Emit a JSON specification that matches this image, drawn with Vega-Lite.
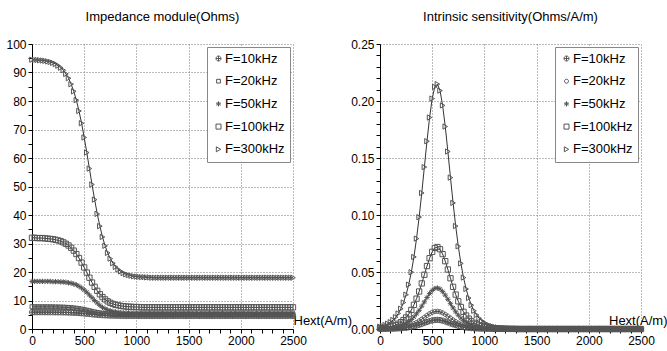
{
"$schema":"https://vega.github.io/schema/vega-lite/v6.json",
"padding":{"left":5,"top":11,"right":0,"bottom":0},
"bounds":"flush",
"spacing":87,
"data":{"values":[
{"F":"F=300kHz","H":0,"Z":94.5,"S":0.002},{"F":"F=300kHz","H":25,"Z":94.4,"S":0.0026},{"F":"F=300kHz","H":50,"Z":94.4,"S":0.0035},{"F":"F=300kHz","H":75,"Z":94.3,"S":0.0046},{"F":"F=300kHz","H":100,"Z":94.2,"S":0.006},{"F":"F=300kHz","H":125,"Z":94.1,"S":0.0079},{"F":"F=300kHz","H":150,"Z":93.9,"S":0.0104},{"F":"F=300kHz","H":175,"Z":93.7,"S":0.0136},{"F":"F=300kHz","H":200,"Z":93.4,"S":0.0178},{"F":"F=300kHz","H":225,"Z":93.0,"S":0.0232},{"F":"F=300kHz","H":250,"Z":92.4,"S":0.0301},{"F":"F=300kHz","H":275,"Z":91.7,"S":0.0389},{"F":"F=300kHz","H":300,"Z":90.8,"S":0.0498},{"F":"F=300kHz","H":325,"Z":89.5,"S":0.0632},{"F":"F=300kHz","H":350,"Z":88.0,"S":0.0793},{"F":"F=300kHz","H":375,"Z":85.9,"S":0.0981},{"F":"F=300kHz","H":400,"Z":83.4,"S":0.1193},{"F":"F=300kHz","H":425,"Z":80.3,"S":0.142},{"F":"F=300kHz","H":450,"Z":76.5,"S":0.1647},{"F":"F=300kHz","H":475,"Z":72.2,"S":0.1855},{"F":"F=300kHz","H":500,"Z":67.2,"S":0.2021},{"F":"F=300kHz","H":525,"Z":61.9,"S":0.2124},{"F":"F=300kHz","H":550,"Z":56.3,"S":0.2148},{"F":"F=300kHz","H":575,"Z":50.7,"S":0.2091},{"F":"F=300kHz","H":600,"Z":45.4,"S":0.1961},{"F":"F=300kHz","H":625,"Z":40.4,"S":0.1776},{"F":"F=300kHz","H":650,"Z":36.1,"S":0.1557},{"F":"F=300kHz","H":675,"Z":32.3,"S":0.1328},{"F":"F=300kHz","H":700,"Z":29.2,"S":0.1106},{"F":"F=300kHz","H":725,"Z":26.7,"S":0.0903},{"F":"F=300kHz","H":750,"Z":24.7,"S":0.0725},{"F":"F=300kHz","H":775,"Z":23.1,"S":0.0575},{"F":"F=300kHz","H":800,"Z":21.8,"S":0.0451},{"F":"F=300kHz","H":825,"Z":20.9,"S":0.0351},{"F":"F=300kHz","H":850,"Z":20.2,"S":0.0272},{"F":"F=300kHz","H":875,"Z":19.6,"S":0.0209},{"F":"F=300kHz","H":900,"Z":19.2,"S":0.016},{"F":"F=300kHz","H":925,"Z":18.9,"S":0.0123},{"F":"F=300kHz","H":950,"Z":18.7,"S":0.0094},{"F":"F=300kHz","H":975,"Z":18.5,"S":0.0071},{"F":"F=300kHz","H":1000,"Z":18.4,"S":0.0054},{"F":"F=300kHz","H":1025,"Z":18.3,"S":0.0041},{"F":"F=300kHz","H":1050,"Z":18.2,"S":0.0031},{"F":"F=300kHz","H":1075,"Z":18.2,"S":0.0024},{"F":"F=300kHz","H":1100,"Z":18.1,"S":0.0018},{"F":"F=300kHz","H":1125,"Z":18.1,"S":0.0014},{"F":"F=300kHz","H":1150,"Z":18,"S":0.001},{"F":"F=300kHz","H":1175,"Z":18,"S":0.0008},{"F":"F=300kHz","H":1200,"Z":18,"S":0.0006},{"F":"F=300kHz","H":1225,"Z":18,"S":0.0005},{"F":"F=300kHz","H":1250,"Z":18,"S":0.0003},{"F":"F=300kHz","H":1275,"Z":18,"S":0.0003},{"F":"F=300kHz","H":1300,"Z":18,"S":0.0002},
{"F":"F=300kHz","H":1325,"Z":18,"S":0},{"F":"F=300kHz","H":1350,"Z":18,"S":0},{"F":"F=300kHz","H":1375,"Z":18,"S":0},{"F":"F=300kHz","H":1400,"Z":18,"S":0},{"F":"F=300kHz","H":1425,"Z":18,"S":0},{"F":"F=300kHz","H":1450,"Z":18,"S":0},{"F":"F=300kHz","H":1475,"Z":18,"S":0},{"F":"F=300kHz","H":1500,"Z":18,"S":0},{"F":"F=300kHz","H":1525,"Z":18,"S":0},{"F":"F=300kHz","H":1550,"Z":18,"S":0},{"F":"F=300kHz","H":1575,"Z":18,"S":0},{"F":"F=300kHz","H":1600,"Z":18,"S":0},{"F":"F=300kHz","H":1625,"Z":18,"S":0},{"F":"F=300kHz","H":1650,"Z":18,"S":0},{"F":"F=300kHz","H":1675,"Z":18,"S":0},{"F":"F=300kHz","H":1700,"Z":18,"S":0},{"F":"F=300kHz","H":1725,"Z":18,"S":0},{"F":"F=300kHz","H":1750,"Z":18,"S":0},{"F":"F=300kHz","H":1775,"Z":18,"S":0},{"F":"F=300kHz","H":1800,"Z":18,"S":0},{"F":"F=300kHz","H":1825,"Z":18,"S":0},{"F":"F=300kHz","H":1850,"Z":18,"S":0},{"F":"F=300kHz","H":1875,"Z":18,"S":0},{"F":"F=300kHz","H":1900,"Z":18,"S":0},{"F":"F=300kHz","H":1925,"Z":18,"S":0},{"F":"F=300kHz","H":1950,"Z":18,"S":0},{"F":"F=300kHz","H":1975,"Z":18,"S":0},{"F":"F=300kHz","H":2000,"Z":18,"S":0},{"F":"F=300kHz","H":2025,"Z":18,"S":0},{"F":"F=300kHz","H":2050,"Z":18,"S":0},{"F":"F=300kHz","H":2075,"Z":18,"S":0},{"F":"F=300kHz","H":2100,"Z":18,"S":0},{"F":"F=300kHz","H":2125,"Z":18,"S":0},{"F":"F=300kHz","H":2150,"Z":18,"S":0},{"F":"F=300kHz","H":2175,"Z":18,"S":0},{"F":"F=300kHz","H":2200,"Z":18,"S":0},{"F":"F=300kHz","H":2225,"Z":18,"S":0},{"F":"F=300kHz","H":2250,"Z":18,"S":0},{"F":"F=300kHz","H":2275,"Z":18,"S":0},{"F":"F=300kHz","H":2300,"Z":18,"S":0},{"F":"F=300kHz","H":2325,"Z":18,"S":0},{"F":"F=300kHz","H":2350,"Z":18,"S":0},{"F":"F=300kHz","H":2375,"Z":18,"S":0},{"F":"F=300kHz","H":2400,"Z":18,"S":0},{"F":"F=300kHz","H":2425,"Z":18,"S":0},{"F":"F=300kHz","H":2450,"Z":18,"S":0},{"F":"F=300kHz","H":2475,"Z":18,"S":0},{"F":"F=300kHz","H":2500,"Z":18,"S":0},
{"F":"F=100kHz","H":0,"Z":32.0,"S":0.0007},{"F":"F=100kHz","H":25,"Z":32.0,"S":0.0009},{"F":"F=100kHz","H":50,"Z":31.9,"S":0.0012},{"F":"F=100kHz","H":75,"Z":31.9,"S":0.0015},{"F":"F=100kHz","H":100,"Z":31.9,"S":0.002},{"F":"F=100kHz","H":125,"Z":31.8,"S":0.0027},{"F":"F=100kHz","H":150,"Z":31.7,"S":0.0035},{"F":"F=100kHz","H":175,"Z":31.6,"S":0.0046},{"F":"F=100kHz","H":200,"Z":31.5,"S":0.006},{"F":"F=100kHz","H":225,"Z":31.3,"S":0.0078},{"F":"F=100kHz","H":250,"Z":31.1,"S":0.0101},{"F":"F=100kHz","H":275,"Z":30.8,"S":0.013},{"F":"F=100kHz","H":300,"Z":30.4,"S":0.0167},{"F":"F=100kHz","H":325,"Z":29.9,"S":0.0212},{"F":"F=100kHz","H":350,"Z":29.3,"S":0.0266},{"F":"F=100kHz","H":375,"Z":28.5,"S":0.0329},{"F":"F=100kHz","H":400,"Z":27.5,"S":0.04},{"F":"F=100kHz","H":425,"Z":26.3,"S":0.0476},{"F":"F=100kHz","H":450,"Z":24.9,"S":0.0552},{"F":"F=100kHz","H":475,"Z":23.3,"S":0.0621},{"F":"F=100kHz","H":500,"Z":21.6,"S":0.0677},{"F":"F=100kHz","H":525,"Z":19.8,"S":0.0711},{"F":"F=100kHz","H":550,"Z":18.0,"S":0.0719},{"F":"F=100kHz","H":575,"Z":16.3,"S":0.07},{"F":"F=100kHz","H":600,"Z":14.8,"S":0.0657},{"F":"F=100kHz","H":625,"Z":13.4,"S":0.0595},{"F":"F=100kHz","H":650,"Z":12.2,"S":0.0522},{"F":"F=100kHz","H":675,"Z":11.2,"S":0.0445},{"F":"F=100kHz","H":700,"Z":10.4,"S":0.037},{"F":"F=100kHz","H":725,"Z":9.7,"S":0.0302},{"F":"F=100kHz","H":750,"Z":9.2,"S":0.0243},{"F":"F=100kHz","H":775,"Z":8.8,"S":0.0193},{"F":"F=100kHz","H":800,"Z":8.5,"S":0.0151},{"F":"F=100kHz","H":825,"Z":8.3,"S":0.0118},{"F":"F=100kHz","H":850,"Z":8.1,"S":0.0091},{"F":"F=100kHz","H":875,"Z":8.0,"S":0.007},{"F":"F=100kHz","H":900,"Z":7.9,"S":0.0054},{"F":"F=100kHz","H":925,"Z":7.8,"S":0.0041},{"F":"F=100kHz","H":950,"Z":7.8,"S":0.0031},{"F":"F=100kHz","H":975,"Z":7.7,"S":0.0024},{"F":"F=100kHz","H":1000,"Z":7.7,"S":0.0018},{"F":"F=100kHz","H":1025,"Z":7.7,"S":0.0014},{"F":"F=100kHz","H":1050,"Z":7.6,"S":0.0011},{"F":"F=100kHz","H":1075,"Z":7.6,"S":0.0008},{"F":"F=100kHz","H":1100,"Z":7.6,"S":0.0006},{"F":"F=100kHz","H":1125,"Z":7.6,"S":0.0005},{"F":"F=100kHz","H":1150,"Z":7.6,"S":0.0004},{"F":"F=100kHz","H":1175,"Z":7.6,"S":0.0003},{"F":"F=100kHz","H":1200,"Z":7.6,"S":0.0002},{"F":"F=100kHz","H":1225,"Z":7.6,"S":0.0002},{"F":"F=100kHz","H":1250,"Z":7.6,"S":0.0001},{"F":"F=100kHz","H":1275,"Z":7.6,"S":0.0001},{"F":"F=100kHz","H":1300,"Z":7.6,"S":0.0001},
{"F":"F=100kHz","H":1325,"Z":7.6,"S":0},{"F":"F=100kHz","H":1350,"Z":7.6,"S":0},{"F":"F=100kHz","H":1375,"Z":7.6,"S":0},{"F":"F=100kHz","H":1400,"Z":7.6,"S":0},{"F":"F=100kHz","H":1425,"Z":7.6,"S":0},{"F":"F=100kHz","H":1450,"Z":7.6,"S":0},{"F":"F=100kHz","H":1475,"Z":7.6,"S":0},{"F":"F=100kHz","H":1500,"Z":7.6,"S":0},{"F":"F=100kHz","H":1525,"Z":7.6,"S":0},{"F":"F=100kHz","H":1550,"Z":7.6,"S":0},{"F":"F=100kHz","H":1575,"Z":7.6,"S":0},{"F":"F=100kHz","H":1600,"Z":7.6,"S":0},{"F":"F=100kHz","H":1625,"Z":7.6,"S":0},{"F":"F=100kHz","H":1650,"Z":7.6,"S":0},{"F":"F=100kHz","H":1675,"Z":7.6,"S":0},{"F":"F=100kHz","H":1700,"Z":7.6,"S":0},{"F":"F=100kHz","H":1725,"Z":7.6,"S":0},{"F":"F=100kHz","H":1750,"Z":7.6,"S":0},{"F":"F=100kHz","H":1775,"Z":7.6,"S":0},{"F":"F=100kHz","H":1800,"Z":7.6,"S":0},{"F":"F=100kHz","H":1825,"Z":7.6,"S":0},{"F":"F=100kHz","H":1850,"Z":7.6,"S":0},{"F":"F=100kHz","H":1875,"Z":7.6,"S":0},{"F":"F=100kHz","H":1900,"Z":7.6,"S":0},{"F":"F=100kHz","H":1925,"Z":7.6,"S":0},{"F":"F=100kHz","H":1950,"Z":7.6,"S":0},{"F":"F=100kHz","H":1975,"Z":7.6,"S":0},{"F":"F=100kHz","H":2000,"Z":7.6,"S":0},{"F":"F=100kHz","H":2025,"Z":7.6,"S":0},{"F":"F=100kHz","H":2050,"Z":7.6,"S":0},{"F":"F=100kHz","H":2075,"Z":7.6,"S":0},{"F":"F=100kHz","H":2100,"Z":7.6,"S":0},{"F":"F=100kHz","H":2125,"Z":7.6,"S":0},{"F":"F=100kHz","H":2150,"Z":7.6,"S":0},{"F":"F=100kHz","H":2175,"Z":7.6,"S":0},{"F":"F=100kHz","H":2200,"Z":7.6,"S":0},{"F":"F=100kHz","H":2225,"Z":7.6,"S":0},{"F":"F=100kHz","H":2250,"Z":7.6,"S":0},{"F":"F=100kHz","H":2275,"Z":7.6,"S":0},{"F":"F=100kHz","H":2300,"Z":7.6,"S":0},{"F":"F=100kHz","H":2325,"Z":7.6,"S":0},{"F":"F=100kHz","H":2350,"Z":7.6,"S":0},{"F":"F=100kHz","H":2375,"Z":7.6,"S":0},{"F":"F=100kHz","H":2400,"Z":7.6,"S":0},{"F":"F=100kHz","H":2425,"Z":7.6,"S":0},{"F":"F=100kHz","H":2450,"Z":7.6,"S":0},{"F":"F=100kHz","H":2475,"Z":7.6,"S":0},{"F":"F=100kHz","H":2500,"Z":7.6,"S":0},
{"F":"F=50kHz","H":0,"Z":16.7,"S":0.0003},{"F":"F=50kHz","H":25,"Z":16.7,"S":0.0004},{"F":"F=50kHz","H":50,"Z":16.7,"S":0.0006},{"F":"F=50kHz","H":75,"Z":16.7,"S":0.0008},{"F":"F=50kHz","H":100,"Z":16.7,"S":0.001},{"F":"F=50kHz","H":125,"Z":16.7,"S":0.0013},{"F":"F=50kHz","H":150,"Z":16.7,"S":0.0017},{"F":"F=50kHz","H":175,"Z":16.7,"S":0.0023},{"F":"F=50kHz","H":200,"Z":16.6,"S":0.003},{"F":"F=50kHz","H":225,"Z":16.6,"S":0.0039},{"F":"F=50kHz","H":250,"Z":16.6,"S":0.005},{"F":"F=50kHz","H":275,"Z":16.5,"S":0.0065},{"F":"F=50kHz","H":300,"Z":16.5,"S":0.0083},{"F":"F=50kHz","H":325,"Z":16.4,"S":0.0106},{"F":"F=50kHz","H":350,"Z":16.2,"S":0.0133},{"F":"F=50kHz","H":375,"Z":16.1,"S":0.0164},{"F":"F=50kHz","H":400,"Z":15.8,"S":0.02},{"F":"F=50kHz","H":425,"Z":15.5,"S":0.0238},{"F":"F=50kHz","H":450,"Z":15.0,"S":0.0276},{"F":"F=50kHz","H":475,"Z":14.4,"S":0.0311},{"F":"F=50kHz","H":500,"Z":13.7,"S":0.0338},{"F":"F=50kHz","H":525,"Z":12.9,"S":0.0356},{"F":"F=50kHz","H":550,"Z":11.9,"S":0.036},{"F":"F=50kHz","H":575,"Z":11.0,"S":0.035},{"F":"F=50kHz","H":600,"Z":10.0,"S":0.0328},{"F":"F=50kHz","H":625,"Z":9.1,"S":0.0297},{"F":"F=50kHz","H":650,"Z":8.3,"S":0.0261},{"F":"F=50kHz","H":675,"Z":7.6,"S":0.0222},{"F":"F=50kHz","H":700,"Z":7.1,"S":0.0185},{"F":"F=50kHz","H":725,"Z":6.7,"S":0.0151},{"F":"F=50kHz","H":750,"Z":6.4,"S":0.0121},{"F":"F=50kHz","H":775,"Z":6.2,"S":0.0096},{"F":"F=50kHz","H":800,"Z":6.0,"S":0.0076},{"F":"F=50kHz","H":825,"Z":5.9,"S":0.0059},{"F":"F=50kHz","H":850,"Z":5.8,"S":0.0046},{"F":"F=50kHz","H":875,"Z":5.7,"S":0.0035},{"F":"F=50kHz","H":900,"Z":5.7,"S":0.0027},{"F":"F=50kHz","H":925,"Z":5.7,"S":0.0021},{"F":"F=50kHz","H":950,"Z":5.6,"S":0.0016},{"F":"F=50kHz","H":975,"Z":5.6,"S":0.0012},{"F":"F=50kHz","H":1000,"Z":5.6,"S":0.0009},{"F":"F=50kHz","H":1025,"Z":5.6,"S":0.0007},{"F":"F=50kHz","H":1050,"Z":5.6,"S":0.0005},{"F":"F=50kHz","H":1075,"Z":5.6,"S":0.0004},{"F":"F=50kHz","H":1100,"Z":5.6,"S":0.0003},{"F":"F=50kHz","H":1125,"Z":5.6,"S":0.0002},{"F":"F=50kHz","H":1150,"Z":5.6,"S":0.0002},{"F":"F=50kHz","H":1175,"Z":5.6,"S":0.0001},{"F":"F=50kHz","H":1200,"Z":5.6,"S":0.0001},{"F":"F=50kHz","H":1225,"Z":5.6,"S":0},{"F":"F=50kHz","H":1250,"Z":5.6,"S":0},{"F":"F=50kHz","H":1275,"Z":5.6,"S":0},{"F":"F=50kHz","H":1300,"Z":5.6,"S":0},
{"F":"F=50kHz","H":1325,"Z":5.6,"S":0},{"F":"F=50kHz","H":1350,"Z":5.6,"S":0},{"F":"F=50kHz","H":1375,"Z":5.6,"S":0},{"F":"F=50kHz","H":1400,"Z":5.6,"S":0},{"F":"F=50kHz","H":1425,"Z":5.6,"S":0},{"F":"F=50kHz","H":1450,"Z":5.6,"S":0},{"F":"F=50kHz","H":1475,"Z":5.6,"S":0},{"F":"F=50kHz","H":1500,"Z":5.6,"S":0},{"F":"F=50kHz","H":1525,"Z":5.6,"S":0},{"F":"F=50kHz","H":1550,"Z":5.6,"S":0},{"F":"F=50kHz","H":1575,"Z":5.6,"S":0},{"F":"F=50kHz","H":1600,"Z":5.6,"S":0},{"F":"F=50kHz","H":1625,"Z":5.6,"S":0},{"F":"F=50kHz","H":1650,"Z":5.6,"S":0},{"F":"F=50kHz","H":1675,"Z":5.6,"S":0},{"F":"F=50kHz","H":1700,"Z":5.6,"S":0},{"F":"F=50kHz","H":1725,"Z":5.6,"S":0},{"F":"F=50kHz","H":1750,"Z":5.6,"S":0},{"F":"F=50kHz","H":1775,"Z":5.6,"S":0},{"F":"F=50kHz","H":1800,"Z":5.6,"S":0},{"F":"F=50kHz","H":1825,"Z":5.6,"S":0},{"F":"F=50kHz","H":1850,"Z":5.6,"S":0},{"F":"F=50kHz","H":1875,"Z":5.6,"S":0},{"F":"F=50kHz","H":1900,"Z":5.6,"S":0},{"F":"F=50kHz","H":1925,"Z":5.6,"S":0},{"F":"F=50kHz","H":1950,"Z":5.6,"S":0},{"F":"F=50kHz","H":1975,"Z":5.6,"S":0},{"F":"F=50kHz","H":2000,"Z":5.6,"S":0},{"F":"F=50kHz","H":2025,"Z":5.6,"S":0},{"F":"F=50kHz","H":2050,"Z":5.6,"S":0},{"F":"F=50kHz","H":2075,"Z":5.6,"S":0},{"F":"F=50kHz","H":2100,"Z":5.6,"S":0},{"F":"F=50kHz","H":2125,"Z":5.6,"S":0},{"F":"F=50kHz","H":2150,"Z":5.6,"S":0},{"F":"F=50kHz","H":2175,"Z":5.6,"S":0},{"F":"F=50kHz","H":2200,"Z":5.6,"S":0},{"F":"F=50kHz","H":2225,"Z":5.6,"S":0},{"F":"F=50kHz","H":2250,"Z":5.6,"S":0},{"F":"F=50kHz","H":2275,"Z":5.6,"S":0},{"F":"F=50kHz","H":2300,"Z":5.6,"S":0},{"F":"F=50kHz","H":2325,"Z":5.6,"S":0},{"F":"F=50kHz","H":2350,"Z":5.6,"S":0},{"F":"F=50kHz","H":2375,"Z":5.6,"S":0},{"F":"F=50kHz","H":2400,"Z":5.6,"S":0},{"F":"F=50kHz","H":2425,"Z":5.6,"S":0},{"F":"F=50kHz","H":2450,"Z":5.6,"S":0},{"F":"F=50kHz","H":2475,"Z":5.6,"S":0},{"F":"F=50kHz","H":2500,"Z":5.6,"S":0},
{"F":"F=20kHz","H":0,"Z":7.8,"S":0.0001},{"F":"F=20kHz","H":25,"Z":7.8,"S":0.0002},{"F":"F=20kHz","H":50,"Z":7.8,"S":0.0003},{"F":"F=20kHz","H":75,"Z":7.79,"S":0.0003},{"F":"F=20kHz","H":100,"Z":7.79,"S":0.0004},{"F":"F=20kHz","H":125,"Z":7.79,"S":0.0006},{"F":"F=20kHz","H":150,"Z":7.78,"S":0.0008},{"F":"F=20kHz","H":175,"Z":7.77,"S":0.001},{"F":"F=20kHz","H":200,"Z":7.76,"S":0.0013},{"F":"F=20kHz","H":225,"Z":7.74,"S":0.0017},{"F":"F=20kHz","H":250,"Z":7.72,"S":0.0022},{"F":"F=20kHz","H":275,"Z":7.7,"S":0.0028},{"F":"F=20kHz","H":300,"Z":7.66,"S":0.0036},{"F":"F=20kHz","H":325,"Z":7.62,"S":0.0046},{"F":"F=20kHz","H":350,"Z":7.56,"S":0.0057},{"F":"F=20kHz","H":375,"Z":7.49,"S":0.0071},{"F":"F=20kHz","H":400,"Z":7.39,"S":0.0086},{"F":"F=20kHz","H":425,"Z":7.28,"S":0.0102},{"F":"F=20kHz","H":450,"Z":7.14,"S":0.0119},{"F":"F=20kHz","H":475,"Z":6.98,"S":0.0134},{"F":"F=20kHz","H":500,"Z":6.8,"S":0.0146},{"F":"F=20kHz","H":525,"Z":6.61,"S":0.0153},{"F":"F=20kHz","H":550,"Z":6.4,"S":0.0155},{"F":"F=20kHz","H":575,"Z":6.2,"S":0.0151},{"F":"F=20kHz","H":600,"Z":6.0,"S":0.0141},{"F":"F=20kHz","H":625,"Z":5.82,"S":0.0128},{"F":"F=20kHz","H":650,"Z":5.66,"S":0.0112},{"F":"F=20kHz","H":675,"Z":5.52,"S":0.0096},{"F":"F=20kHz","H":700,"Z":5.41,"S":0.008},{"F":"F=20kHz","H":725,"Z":5.32,"S":0.0065},{"F":"F=20kHz","H":750,"Z":5.24,"S":0.0052},{"F":"F=20kHz","H":775,"Z":5.19,"S":0.0042},{"F":"F=20kHz","H":800,"Z":5.14,"S":0.0033},{"F":"F=20kHz","H":825,"Z":5.11,"S":0.0025},{"F":"F=20kHz","H":850,"Z":5.08,"S":0.002},{"F":"F=20kHz","H":875,"Z":5.06,"S":0.0015},{"F":"F=20kHz","H":900,"Z":5.04,"S":0.0012},{"F":"F=20kHz","H":925,"Z":5.03,"S":0.0009},{"F":"F=20kHz","H":950,"Z":5.03,"S":0.0007},{"F":"F=20kHz","H":975,"Z":5.02,"S":0.0005},{"F":"F=20kHz","H":1000,"Z":5.01,"S":0.0004},{"F":"F=20kHz","H":1025,"Z":5.01,"S":0.0003},{"F":"F=20kHz","H":1050,"Z":5.0,"S":0.0002},{"F":"F=20kHz","H":1075,"Z":5.0,"S":0.0002},{"F":"F=20kHz","H":1100,"Z":5.0,"S":0.0001},{"F":"F=20kHz","H":1125,"Z":5.0,"S":0.0001},{"F":"F=20kHz","H":1150,"Z":5.0,"S":0},{"F":"F=20kHz","H":1175,"Z":5.0,"S":0},{"F":"F=20kHz","H":1200,"Z":5.0,"S":0},{"F":"F=20kHz","H":1225,"Z":5.0,"S":0},{"F":"F=20kHz","H":1250,"Z":5.0,"S":0},{"F":"F=20kHz","H":1275,"Z":5.0,"S":0},{"F":"F=20kHz","H":1300,"Z":5.0,"S":0},
{"F":"F=20kHz","H":1325,"Z":5.0,"S":0},{"F":"F=20kHz","H":1350,"Z":5.0,"S":0},{"F":"F=20kHz","H":1375,"Z":5.0,"S":0},{"F":"F=20kHz","H":1400,"Z":5.0,"S":0},{"F":"F=20kHz","H":1425,"Z":5.0,"S":0},{"F":"F=20kHz","H":1450,"Z":5.0,"S":0},{"F":"F=20kHz","H":1475,"Z":5.0,"S":0},{"F":"F=20kHz","H":1500,"Z":5.0,"S":0},{"F":"F=20kHz","H":1525,"Z":5.0,"S":0},{"F":"F=20kHz","H":1550,"Z":5.0,"S":0},{"F":"F=20kHz","H":1575,"Z":5.0,"S":0},{"F":"F=20kHz","H":1600,"Z":5.0,"S":0},{"F":"F=20kHz","H":1625,"Z":5.0,"S":0},{"F":"F=20kHz","H":1650,"Z":5.0,"S":0},{"F":"F=20kHz","H":1675,"Z":5.0,"S":0},{"F":"F=20kHz","H":1700,"Z":5.0,"S":0},{"F":"F=20kHz","H":1725,"Z":5.0,"S":0},{"F":"F=20kHz","H":1750,"Z":5.0,"S":0},{"F":"F=20kHz","H":1775,"Z":5.0,"S":0},{"F":"F=20kHz","H":1800,"Z":5.0,"S":0},{"F":"F=20kHz","H":1825,"Z":5.0,"S":0},{"F":"F=20kHz","H":1850,"Z":5.0,"S":0},{"F":"F=20kHz","H":1875,"Z":5.0,"S":0},{"F":"F=20kHz","H":1900,"Z":5.0,"S":0},{"F":"F=20kHz","H":1925,"Z":5.0,"S":0},{"F":"F=20kHz","H":1950,"Z":5.0,"S":0},{"F":"F=20kHz","H":1975,"Z":5.0,"S":0},{"F":"F=20kHz","H":2000,"Z":5.0,"S":0},{"F":"F=20kHz","H":2025,"Z":5.0,"S":0},{"F":"F=20kHz","H":2050,"Z":5.0,"S":0},{"F":"F=20kHz","H":2075,"Z":5.0,"S":0},{"F":"F=20kHz","H":2100,"Z":5.0,"S":0},{"F":"F=20kHz","H":2125,"Z":5.0,"S":0},{"F":"F=20kHz","H":2150,"Z":5.0,"S":0},{"F":"F=20kHz","H":2175,"Z":5.0,"S":0},{"F":"F=20kHz","H":2200,"Z":5.0,"S":0},{"F":"F=20kHz","H":2225,"Z":5.0,"S":0},{"F":"F=20kHz","H":2250,"Z":5.0,"S":0},{"F":"F=20kHz","H":2275,"Z":5.0,"S":0},{"F":"F=20kHz","H":2300,"Z":5.0,"S":0},{"F":"F=20kHz","H":2325,"Z":5.0,"S":0},{"F":"F=20kHz","H":2350,"Z":5.0,"S":0},{"F":"F=20kHz","H":2375,"Z":5.0,"S":0},{"F":"F=20kHz","H":2400,"Z":5.0,"S":0},{"F":"F=20kHz","H":2425,"Z":5.0,"S":0},{"F":"F=20kHz","H":2450,"Z":5.0,"S":0},{"F":"F=20kHz","H":2475,"Z":5.0,"S":0},{"F":"F=20kHz","H":2500,"Z":5.0,"S":0},
{"F":"F=10kHz","H":0,"Z":5.9,"S":0.0001},{"F":"F=10kHz","H":25,"Z":5.9,"S":0.0001},{"F":"F=10kHz","H":50,"Z":5.9,"S":0.0001},{"F":"F=10kHz","H":75,"Z":5.9,"S":0.0002},{"F":"F=10kHz","H":100,"Z":5.9,"S":0.0002},{"F":"F=10kHz","H":125,"Z":5.89,"S":0.0003},{"F":"F=10kHz","H":150,"Z":5.89,"S":0.0004},{"F":"F=10kHz","H":175,"Z":5.89,"S":0.0005},{"F":"F=10kHz","H":200,"Z":5.88,"S":0.0007},{"F":"F=10kHz","H":225,"Z":5.87,"S":0.0009},{"F":"F=10kHz","H":250,"Z":5.86,"S":0.0011},{"F":"F=10kHz","H":275,"Z":5.85,"S":0.0015},{"F":"F=10kHz","H":300,"Z":5.84,"S":0.0019},{"F":"F=10kHz","H":325,"Z":5.82,"S":0.0024},{"F":"F=10kHz","H":350,"Z":5.79,"S":0.003},{"F":"F=10kHz","H":375,"Z":5.75,"S":0.0037},{"F":"F=10kHz","H":400,"Z":5.71,"S":0.0044},{"F":"F=10kHz","H":425,"Z":5.66,"S":0.0053},{"F":"F=10kHz","H":450,"Z":5.6,"S":0.0061},{"F":"F=10kHz","H":475,"Z":5.52,"S":0.0069},{"F":"F=10kHz","H":500,"Z":5.44,"S":0.0075},{"F":"F=10kHz","H":525,"Z":5.35,"S":0.0079},{"F":"F=10kHz","H":550,"Z":5.25,"S":0.008},{"F":"F=10kHz","H":575,"Z":5.16,"S":0.0078},{"F":"F=10kHz","H":600,"Z":5.06,"S":0.0073},{"F":"F=10kHz","H":625,"Z":4.98,"S":0.0066},{"F":"F=10kHz","H":650,"Z":4.91,"S":0.0058},{"F":"F=10kHz","H":675,"Z":4.84,"S":0.0049},{"F":"F=10kHz","H":700,"Z":4.79,"S":0.0041},{"F":"F=10kHz","H":725,"Z":4.75,"S":0.0034},{"F":"F=10kHz","H":750,"Z":4.71,"S":0.0027},{"F":"F=10kHz","H":775,"Z":4.69,"S":0.0021},{"F":"F=10kHz","H":800,"Z":4.67,"S":0.0017},{"F":"F=10kHz","H":825,"Z":4.65,"S":0.0013},{"F":"F=10kHz","H":850,"Z":4.64,"S":0.001},{"F":"F=10kHz","H":875,"Z":4.63,"S":0.0008},{"F":"F=10kHz","H":900,"Z":4.62,"S":0.0006},{"F":"F=10kHz","H":925,"Z":4.62,"S":0.0005},{"F":"F=10kHz","H":950,"Z":4.61,"S":0.0004},{"F":"F=10kHz","H":975,"Z":4.61,"S":0.0003},{"F":"F=10kHz","H":1000,"Z":4.61,"S":0.0002},{"F":"F=10kHz","H":1025,"Z":4.6,"S":0.0002},{"F":"F=10kHz","H":1050,"Z":4.6,"S":0.0001},{"F":"F=10kHz","H":1075,"Z":4.6,"S":0.0001},{"F":"F=10kHz","H":1100,"Z":4.6,"S":0},{"F":"F=10kHz","H":1125,"Z":4.6,"S":0},{"F":"F=10kHz","H":1150,"Z":4.6,"S":0},{"F":"F=10kHz","H":1175,"Z":4.6,"S":0},{"F":"F=10kHz","H":1200,"Z":4.6,"S":0},{"F":"F=10kHz","H":1225,"Z":4.6,"S":0},{"F":"F=10kHz","H":1250,"Z":4.6,"S":0},{"F":"F=10kHz","H":1275,"Z":4.6,"S":0},{"F":"F=10kHz","H":1300,"Z":4.6,"S":0},
{"F":"F=10kHz","H":1325,"Z":4.6,"S":0},{"F":"F=10kHz","H":1350,"Z":4.6,"S":0},{"F":"F=10kHz","H":1375,"Z":4.6,"S":0},{"F":"F=10kHz","H":1400,"Z":4.6,"S":0},{"F":"F=10kHz","H":1425,"Z":4.6,"S":0},{"F":"F=10kHz","H":1450,"Z":4.6,"S":0},{"F":"F=10kHz","H":1475,"Z":4.6,"S":0},{"F":"F=10kHz","H":1500,"Z":4.6,"S":0},{"F":"F=10kHz","H":1525,"Z":4.6,"S":0},{"F":"F=10kHz","H":1550,"Z":4.6,"S":0},{"F":"F=10kHz","H":1575,"Z":4.6,"S":0},{"F":"F=10kHz","H":1600,"Z":4.6,"S":0},{"F":"F=10kHz","H":1625,"Z":4.6,"S":0},{"F":"F=10kHz","H":1650,"Z":4.6,"S":0},{"F":"F=10kHz","H":1675,"Z":4.6,"S":0},{"F":"F=10kHz","H":1700,"Z":4.6,"S":0},{"F":"F=10kHz","H":1725,"Z":4.6,"S":0},{"F":"F=10kHz","H":1750,"Z":4.6,"S":0},{"F":"F=10kHz","H":1775,"Z":4.6,"S":0},{"F":"F=10kHz","H":1800,"Z":4.6,"S":0},{"F":"F=10kHz","H":1825,"Z":4.6,"S":0},{"F":"F=10kHz","H":1850,"Z":4.6,"S":0},{"F":"F=10kHz","H":1875,"Z":4.6,"S":0},{"F":"F=10kHz","H":1900,"Z":4.6,"S":0},{"F":"F=10kHz","H":1925,"Z":4.6,"S":0},{"F":"F=10kHz","H":1950,"Z":4.6,"S":0},{"F":"F=10kHz","H":1975,"Z":4.6,"S":0},{"F":"F=10kHz","H":2000,"Z":4.6,"S":0},{"F":"F=10kHz","H":2025,"Z":4.6,"S":0},{"F":"F=10kHz","H":2050,"Z":4.6,"S":0},{"F":"F=10kHz","H":2075,"Z":4.6,"S":0},{"F":"F=10kHz","H":2100,"Z":4.6,"S":0},{"F":"F=10kHz","H":2125,"Z":4.6,"S":0},{"F":"F=10kHz","H":2150,"Z":4.6,"S":0},{"F":"F=10kHz","H":2175,"Z":4.6,"S":0},{"F":"F=10kHz","H":2200,"Z":4.6,"S":0},{"F":"F=10kHz","H":2225,"Z":4.6,"S":0},{"F":"F=10kHz","H":2250,"Z":4.6,"S":0},{"F":"F=10kHz","H":2275,"Z":4.6,"S":0},{"F":"F=10kHz","H":2300,"Z":4.6,"S":0},{"F":"F=10kHz","H":2325,"Z":4.6,"S":0},{"F":"F=10kHz","H":2350,"Z":4.6,"S":0},{"F":"F=10kHz","H":2375,"Z":4.6,"S":0},{"F":"F=10kHz","H":2400,"Z":4.6,"S":0},{"F":"F=10kHz","H":2425,"Z":4.6,"S":0},{"F":"F=10kHz","H":2450,"Z":4.6,"S":0},{"F":"F=10kHz","H":2475,"Z":4.6,"S":0},{"F":"F=10kHz","H":2500,"Z":4.6,"S":0}
]},
"resolve":{"scale":{"shape":"independent"},"legend":{"shape":"independent"}},
"hconcat":[
{
"width":261,"height":285,
"title":{"text":"Impedance module(Ohms)","offset":14},
"encoding":{
"x":{"field":"H","type":"quantitative","scale":{"domain":[0,2500],"nice":false,"zero":false},
"axis":{"values":[0,100,200,300,400,500,600,700,800,900,1000,1100,1200,1300,1400,1500,1600,1700,1800,1900,2000,2100,2200,2300,2400,2500],
"labelExpr":"datum.value % 500 === 0 ? datum.label : ''",
"gridOpacity":{"condition":{"test":"datum.value % 500 === 0","value":1},"value":0},
"format":"d","title":"Hext(A/m)","titleX":261,"titleY":-5,"titleAlign":"left","titleBaseline":"alphabetic","titleAnchor":null}},
"y":{"field":"Z","type":"quantitative","scale":{"domain":[0,100],"nice":false,"zero":false},
"axis":{"values":[0,5,10,15,20,25,30,35,40,45,50,55,60,65,70,75,80,85,90,95,100],
"labelExpr":"datum.value % 10 === 0 ? datum.label : ''",
"gridOpacity":{"condition":{"test":"datum.value % 10 === 0","value":1},"value":0},
"format":"d","title":null}}
},
"layer":[
{"mark":{"type":"line","color":"#333333","strokeWidth":1},"encoding":{"detail":{"field":"F"}}},
{"mark":{"type":"point","filled":false,"color":"#555555","strokeWidth":1,"size":28,"opacity":1},
"encoding":{"shape":{"field":"F","type":"nominal",
"scale":{"domain":["F=10kHz","F=20kHz","F=50kHz","F=100kHz","F=300kHz"],
"range":["M-1,0A1,1,0,1,1,1,0A1,1,0,1,1,-1,0M-1,0L1,0M0,-1L0,1","M-0.75,-0.75L0.75,-0.75L0.75,0.75L-0.75,0.75Z","M-1,0L1,0M0,-1L0,1M-0.7,-0.7L0.7,0.7M-0.7,0.7L0.7,-0.7","square","triangle-right"]},
"legend":{"title":null}}}}
]
},
{
"width":261,"height":285,
"title":{"text":"Intrinsic sensitivity(Ohms/A/m)","offset":14},
"encoding":{
"x":{"field":"H","type":"quantitative","scale":{"domain":[0,2500],"nice":false,"zero":false},
"axis":{"values":[0,100,200,300,400,500,600,700,800,900,1000,1100,1200,1300,1400,1500,1600,1700,1800,1900,2000,2100,2200,2300,2400,2500],
"labelExpr":"datum.value % 500 === 0 ? datum.label : ''",
"gridOpacity":{"condition":{"test":"datum.value % 500 === 0","value":1},"value":0},
"format":"d","title":"Hext(A/m)","titleX":287,"titleY":-5,"titleAlign":"right","titleBaseline":"alphabetic","titleAnchor":null}},
"y":{"field":"S","type":"quantitative","scale":{"domain":[0,0.25],"nice":false,"zero":false},
"axis":{"values":[0,0.01,0.02,0.03,0.04,0.05,0.06,0.07,0.08,0.09,0.1,0.11,0.12,0.13,0.14,0.15,0.16,0.17,0.18,0.19,0.2,0.21,0.22,0.23,0.24,0.25],
"labelExpr":"abs(datum.value*20 - round(datum.value*20)) < 0.001 ? format(datum.value, '.2f') : ''",
"gridOpacity":{"condition":{"test":"abs(datum.value*20 - round(datum.value*20)) < 0.001","value":1},"value":0},
"title":null}}
},
"layer":[
{"mark":{"type":"line","color":"#333333","strokeWidth":1},"encoding":{"detail":{"field":"F"}}},
{"mark":{"type":"point","filled":false,"color":"#555555","strokeWidth":1,"size":28,"opacity":1},
"encoding":{"shape":{"field":"F","type":"nominal",
"scale":{"domain":["F=10kHz","F=20kHz","F=50kHz","F=100kHz","F=300kHz"],
"range":["M-1,0A1,1,0,1,1,1,0A1,1,0,1,1,-1,0M-1,0L1,0M0,-1L0,1","M-0.8,0A0.8,0.8,0,1,1,0.8,0A0.8,0.8,0,1,1,-0.8,0Z","M-1,0L1,0M0,-1L0,1M-0.7,-0.7L0.7,0.7M-0.7,0.7L0.7,-0.7","square","triangle-right"]},
"legend":{"title":null}}}}
]
}
],
"config":{
"font":"Liberation Sans",
"view":{"stroke":null},
"title":{"fontSize":13,"fontWeight":"normal","font":"Liberation Sans","color":"#000000","anchor":"middle"},
"axis":{"labelFont":"Liberation Sans","labelFontSize":12,"labelColor":"#000000","tickColor":"#000000","domainColor":"#000000","tickSize":4,"labelPadding":2,"gridColor":"#777777","gridDash":[1,2],"gridWidth":1,"labelFlush":false,"labelOverlap":false,"titleFont":"Liberation Sans","titleFontSize":13,"titleFontWeight":"normal","titleColor":"#000000"},
"legend":{"orient":"top-right","offset":3,"padding":5,"rowPadding":8.7,"labelFont":"Liberation Sans","labelFontSize":13,"labelColor":"#000000","strokeColor":"#888888","fillColor":"#ffffff","symbolSize":25,"symbolStrokeColor":"#555555","symbolStrokeWidth":1,"labelOffset":0,"cornerRadius":0}
}
}
